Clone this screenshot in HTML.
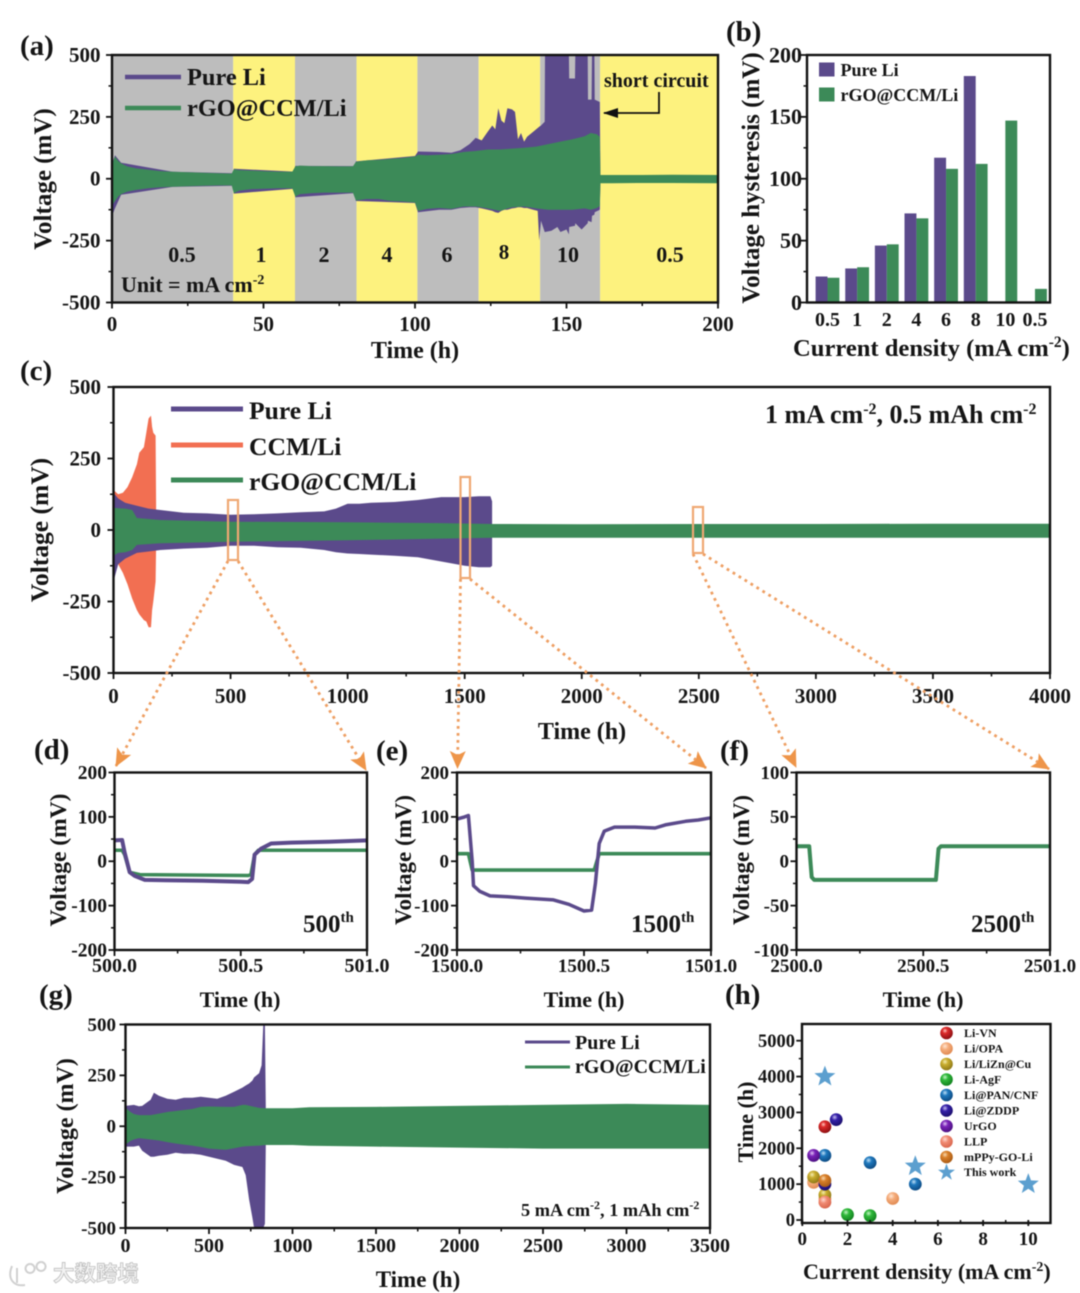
<!DOCTYPE html>
<html lang="en">
<head>
<meta charset="utf-8">
<title>Voltage profiles of Pure Li and rGO@CCM/Li cells</title>
<style>
html,body{margin:0;padding:0;background:#fff;}
svg{display:block;filter:blur(.45px);}
text{font-family:"Liberation Serif","Noto Serif CJK SC",serif;font-weight:bold;fill:#151515;}
.plabel{font-size:29px;}
.frame{fill:none;stroke:#111;stroke-width:2.4;}
.dots{fill:none;stroke:#ee9f63;stroke-width:2.8;stroke-dasharray:2.8 4.2;marker-end:url(#orange-head);}
.zoombox{fill:none;stroke:#efa873;stroke-width:2.2;}
</style>
</head>
<body>
<svg id="figure" xmlns="http://www.w3.org/2000/svg" width="1080" height="1293" viewBox="0 0 1080 1293">
<defs>
<marker id="orange-head" markerUnits="userSpaceOnUse" markerWidth="22" markerHeight="18" refX="17" refY="8" orient="auto"><path d="M0 0 L18 8 L0 16 L4 8 Z" fill="#ee9549"/></marker>
<marker id="black-head" markerUnits="userSpaceOnUse" markerWidth="16" markerHeight="12" refX="14" refY="5" orient="auto"><path d="M0 0 L15 5 L0 10 Z" fill="#111"/></marker>
<radialGradient id="g-red" cx="38%" cy="32%" r="70%"><stop offset="0" stop-color="#ffc9c0"/><stop offset=".3" stop-color="#dd2b2b"/><stop offset="1" stop-color="#8a0f12"/></radialGradient>
<radialGradient id="g-peach" cx="38%" cy="32%" r="70%"><stop offset="0" stop-color="#ffe6d2"/><stop offset=".4" stop-color="#f4ab7a"/><stop offset="1" stop-color="#e08a52"/></radialGradient>
<radialGradient id="g-olive" cx="38%" cy="32%" r="70%"><stop offset="0" stop-color="#f5edb0"/><stop offset=".35" stop-color="#c9ad2e"/><stop offset="1" stop-color="#8d7816"/></radialGradient>
<radialGradient id="g-green" cx="38%" cy="32%" r="70%"><stop offset="0" stop-color="#c4f5c4"/><stop offset=".35" stop-color="#2fb83a"/><stop offset="1" stop-color="#12801f"/></radialGradient>
<radialGradient id="g-blue" cx="38%" cy="32%" r="70%"><stop offset="0" stop-color="#bfe0f7"/><stop offset=".35" stop-color="#1e78bd"/><stop offset="1" stop-color="#0d4a82"/></radialGradient>
<radialGradient id="g-indigo" cx="38%" cy="32%" r="70%"><stop offset="0" stop-color="#c6bdf2"/><stop offset=".35" stop-color="#3420a8"/><stop offset="1" stop-color="#1b0f6c"/></radialGradient>
<radialGradient id="g-purple" cx="38%" cy="32%" r="70%"><stop offset="0" stop-color="#e0c4f5"/><stop offset=".35" stop-color="#7a22b8"/><stop offset="1" stop-color="#4b1180"/></radialGradient>
<radialGradient id="g-salmon" cx="38%" cy="32%" r="70%"><stop offset="0" stop-color="#ffd9d0"/><stop offset=".4" stop-color="#f08a72"/><stop offset="1" stop-color="#d8654c"/></radialGradient>
<radialGradient id="g-brown" cx="38%" cy="32%" r="70%"><stop offset="0" stop-color="#f7d9b0"/><stop offset=".35" stop-color="#d9802a"/><stop offset="1" stop-color="#a85a14"/></radialGradient>
</defs>

<g id="panel-a">
  <g id="a-stripes"></g>
  <g id="a-marks"></g>
  <rect class="frame" x="112" y="55" width="606" height="247.5"/>
  <g id="a-axes"></g>
  <text class="plabel" x="20" y="55">(a)</text>
  <text font-size="25" text-anchor="middle" transform="translate(51,179) rotate(-90)">Voltage (mV)</text>
  <text font-size="24" text-anchor="middle" x="415" y="358">Time (h)</text>
  <line x1="125" y1="77" x2="181" y2="77" stroke="#5b4a8b" stroke-width="4.5"/>
  <line x1="125" y1="108" x2="181" y2="108" stroke="#3c8a58" stroke-width="4.5"/>
  <text font-size="24.4" x="187" y="85">Pure Li</text>
  <text font-size="24.4" x="187" y="116">rGO@CCM/Li</text>
  <text font-size="22" text-anchor="middle" x="182" y="262">0.5</text>
  <text font-size="22" text-anchor="middle" x="261" y="262">1</text>
  <text font-size="22" text-anchor="middle" x="324" y="262">2</text>
  <text font-size="22" text-anchor="middle" x="387" y="262">4</text>
  <text font-size="22" text-anchor="middle" x="447" y="262">6</text>
  <text font-size="21" text-anchor="middle" x="504" y="259">8</text>
  <text font-size="22" text-anchor="middle" x="568" y="262">10</text>
  <text font-size="22" text-anchor="middle" x="670" y="262">0.5</text>
  <text font-size="22" x="121" y="292">Unit = mA cm<tspan font-size="14" dy="-8">-2</tspan></text>
  <text font-size="20" x="604" y="87">short circuit</text>
  <polyline points="659,92 659,113 604,113" fill="none" stroke="#111" stroke-width="1.8" marker-end="url(#black-head)"/>
</g>

<g id="panel-b">
  <g id="b-marks"></g>
  <rect class="frame" x="807" y="55" width="243" height="247.5"/>
  <g id="b-axes"></g>
  <text class="plabel" x="726" y="41">(b)</text>
  <text font-size="25" text-anchor="middle" transform="translate(759,178) rotate(-90)">Voltage hysteresis (mV)</text>
  <text font-size="24.6" x="793" y="356">Current density (mA cm<tspan font-size="15.5" dy="-9">-2</tspan><tspan dy="9">)</tspan></text>
  <rect x="819" y="62.5" width="15.5" height="14" fill="#5b4a8b"/>
  <rect x="819" y="87.5" width="15.5" height="14" fill="#3c8a58"/>
  <text font-size="18" x="840.5" y="76">Pure Li</text>
  <text font-size="18" x="840.5" y="101">rGO@CCM/Li</text>
</g>

<g id="panel-c">
  <g id="c-marks"></g>
  <rect class="frame" x="113.5" y="387" width="936.5" height="286"/>
  <g id="c-axes"></g>
  <text class="plabel" x="20" y="380">(c)</text>
  <text font-size="25.5" text-anchor="middle" transform="translate(48,530) rotate(-90)">Voltage (mV)</text>
  <text font-size="24" text-anchor="middle" x="582" y="739">Time (h)</text>
  <line x1="171" y1="409" x2="243" y2="409" stroke="#5b4a8b" stroke-width="5"/>
  <line x1="171" y1="445" x2="243" y2="445" stroke="#f26f52" stroke-width="5"/>
  <line x1="171" y1="480" x2="243" y2="480" stroke="#3c8a58" stroke-width="5"/>
  <text font-size="25.6" x="249" y="419">Pure Li</text>
  <text font-size="25.6" x="249" y="455">CCM/Li</text>
  <text font-size="25.6" x="249" y="490">rGO@CCM/Li</text>
  <text font-size="26" x="765" y="423">1 mA cm<tspan font-size="16" dy="-9">-2</tspan><tspan dy="9">, 0.5 mAh cm</tspan><tspan font-size="16" dy="-9">-2</tspan></text>
  <rect class="zoombox" x="228" y="500" width="10" height="60"/>
  <rect class="zoombox" x="460.5" y="477" width="9.5" height="101"/>
  <rect class="zoombox" x="693" y="507" width="10" height="46"/>
  <line class="dots" x1="228" y1="561" x2="116" y2="766"/>
  <line class="dots" x1="238" y1="561" x2="366" y2="770"/>
  <line class="dots" x1="460.5" y1="579" x2="457.5" y2="768"/>
  <line class="dots" x1="470" y1="579" x2="706" y2="768"/>
  <line class="dots" x1="693" y1="554" x2="796" y2="767"/>
  <line class="dots" x1="703" y1="554" x2="1049" y2="769"/>
</g>

<g id="panel-d">
  <g id="d-marks"></g>
  <rect class="frame" x="114.5" y="772.5" width="252.5" height="177.5"/>
  <g id="d-axes"></g>
  <text class="plabel" x="34" y="759">(d)</text>
  <text font-size="23.5" text-anchor="middle" transform="translate(66,860) rotate(-90)">Voltage (mV)</text>
  <text font-size="22" text-anchor="middle" x="240" y="1007">Time (h)</text>
  <text font-size="25" x="303" y="932">500<tspan font-size="15" dy="-10">th</tspan></text>
</g>

<g id="panel-e">
  <g id="e-marks"></g>
  <rect class="frame" x="457" y="772.5" width="254" height="177.5"/>
  <g id="e-axes"></g>
  <text class="plabel" x="376" y="760">(e)</text>
  <text font-size="23" text-anchor="middle" transform="translate(411,860) rotate(-90)">Voltage (mV)</text>
  <text font-size="22" text-anchor="middle" x="584" y="1007">Time (h)</text>
  <text font-size="25" x="631" y="932">1500<tspan font-size="15" dy="-10">th</tspan></text>
</g>

<g id="panel-f">
  <g id="f-marks"></g>
  <rect class="frame" x="796.5" y="772.5" width="253.5" height="177.5"/>
  <g id="f-axes"></g>
  <text class="plabel" x="720" y="760">(f)</text>
  <text font-size="23" text-anchor="middle" transform="translate(749,860) rotate(-90)">Voltage (mV)</text>
  <text font-size="22" text-anchor="middle" x="923" y="1007">Time (h)</text>
  <text font-size="25" x="971" y="932">2500<tspan font-size="15" dy="-10">th</tspan></text>
</g>

<g id="panel-g">
  <g id="g-marks"></g>
  <rect class="frame" x="125.5" y="1024.5" width="584.5" height="203.5"/>
  <g id="g-axes"></g>
  <text class="plabel" x="39" y="1004">(g)</text>
  <text font-size="24" text-anchor="middle" transform="translate(73,1126) rotate(-90)">Voltage (mV)</text>
  <text font-size="23" text-anchor="middle" x="418" y="1287">Time (h)</text>
  <line x1="525" y1="1042" x2="570" y2="1042" stroke="#5b4a8b" stroke-width="3"/>
  <line x1="525" y1="1067" x2="570" y2="1067" stroke="#3c8a58" stroke-width="3"/>
  <text font-size="20" x="575" y="1049">Pure Li</text>
  <text font-size="20" x="575" y="1073">rGO@CCM/Li</text>
  <text font-size="18.3" x="521" y="1216">5 mA cm<tspan font-size="12" dy="-7">-2</tspan><tspan dy="7">, 1 mAh cm</tspan><tspan font-size="12" dy="-7">-2</tspan></text>
</g>

<g id="panel-h">
  <g id="h-marks"></g>
  <rect class="frame" x="802" y="1024" width="248.5" height="199"/>
  <g id="h-axes"></g>
  <text class="plabel" x="725" y="1004">(h)</text>
  <text font-size="22" text-anchor="middle" transform="translate(753,1122) rotate(-90)">Time (h)</text>
  <text font-size="22" x="803" y="1279">Current density (mA cm<tspan font-size="14" dy="-8">-2</tspan><tspan dy="8">)</tspan></text>
  <g font-size="12">
    <circle cx="946.5" cy="1033" r="6.3" fill="url(#g-red)"/>
    <text font-size="12" x="964" y="1037">Li-VN</text>
    <circle cx="946.5" cy="1048.5" r="6.3" fill="url(#g-peach)"/>
    <text font-size="12" x="964" y="1052.5">Li/OPA</text>
    <circle cx="946.5" cy="1064" r="6.3" fill="url(#g-olive)"/>
    <text font-size="12" x="964" y="1068">Li/LiZn@Cu</text>
    <circle cx="946.5" cy="1079.5" r="6.3" fill="url(#g-green)"/>
    <text font-size="12" x="964" y="1083.5">Li-AgF</text>
    <circle cx="946.5" cy="1095" r="6.3" fill="url(#g-blue)"/>
    <text font-size="12" x="964" y="1099">Li@PAN/CNF</text>
    <circle cx="946.5" cy="1110.5" r="6.3" fill="url(#g-indigo)"/>
    <text font-size="12" x="964" y="1114.5">Li@ZDDP</text>
    <circle cx="946.5" cy="1126" r="6.3" fill="url(#g-purple)"/>
    <text font-size="12" x="964" y="1130">UrGO</text>
    <circle cx="946.5" cy="1141.5" r="6.3" fill="url(#g-salmon)"/>
    <text font-size="12" x="964" y="1145.5">LLP</text>
    <circle cx="946.5" cy="1157" r="6.3" fill="url(#g-brown)"/>
    <text font-size="12" x="964" y="1161">mPPy-GO-Li</text>
    <polygon points="946.5,1163.5 948.6,1169.6 955,1169.7 949.9,1173.6 951.8,1179.7 946.5,1176 941.2,1179.7 943.1,1173.6 938,1169.7 944.4,1169.6" fill="#5c9fcf"/>
    <text font-size="12" x="964" y="1176">This work</text>
  </g>
</g>

<g opacity=".85">
  <path d="M12 1266 C7 1278 13 1287 25 1285 M17 1268 L17 1283 M30 1264 a4.5 4.5 0 1 0 .1 0 M41 1262 a4.5 4.5 0 1 0 .1 0" fill="none" stroke="#c8c8c8" stroke-width="2"/>
  <text x="53" y="1281" font-size="21.5" style="font-family:'Liberation Sans','Noto Sans CJK SC',sans-serif;fill:#f0f0f0;stroke:#b5b5b5;stroke-width:.8">大数跨境</text>
</g>
</svg>

<script>
/* ---------- Panel (a): rate capability ---------- */
const aXTicks = [0, 50, 100, 150, 200];
const aXMinor = [25, 75, 125, 175];
const aYTicks = [-500, -250, 0, 250, 500];
const aYMinor = [-375, -125, 125, 375];
const aStripeEdges = [0, 40, 60.4, 80.7, 100.8, 121, 141.3, 161.1, 200];
/* rows: time (h), upper envelope (mV), lower envelope (mV) */
const aPureEnvelope = [[0,60,-150],[1,95,-120],[3,65,-65],[20,28,-33],[40,22,-28],[40.2,40,-60],[60,29,-40],[60.5,52,-75],[80,51,-58],[80.5,70,-90],[100,92,-98],[101,110,-135],[108,108,-125],[112,105,-125],[115,115,-118],[118,140,-115],[120,165,-115],[122,155,-120],[124,190,-125],[125.5,215,-130],[126.5,200,-135],[127.5,285,-138],[128.5,235,-130],[129.5,225,-125],[130.5,285,-125],[132,280,-120],[133,270,-118],[134,160,-115],[135,185,-115],[136,150,-118],[137,170,-118],[139,190,-125],[140.5,205,-130],[141,210,-250],[141.6,215,-170],[142.8,230,-215],[142.9,500,-215],[145,500,-210],[147,500,-195],[148,500,-215],[150,500,-205],[150.8,500,-225],[150.9,405,-195],[152.8,405,-190],[152.9,500,-180],[155,500,-205],[157,500,-180],[157.1,320,-170],[158.3,320,-175],[158.4,500,-150],[159.2,500,-145],[159.3,320,-135],[161,310,-125],[161.2,15,-18]];
const aGreenEnvelope = [[0,50,-100],[0.5,75,-100],[1,90,-90],[2,72,-72],[3,62,-62],[5,50,-52],[8,42,-45],[12,36,-38],[16,31,-34],[20,28,-32],[25,26,-30],[30,24,-28],[35,22,-27],[39.5,21,-27],[40.2,38,-58],[42,35,-48],[46,33,-42],[50,31,-40],[55,29,-38],[59.5,28,-38],[60.5,50,-72],[62,53,-62],[66,51,-58],[70,51,-56],[75,50,-56],[79.5,50,-56],[80.5,68,-88],[84,74,-82],[88,76,-82],[92,80,-90],[96,84,-92],[100,90,-96],[101,97,-130],[104,95,-122],[108,97,-118],[112,100,-122],[116,108,-112],[120,112,-112],[124,118,-120],[128,118,-130],[132,122,-115],[136,125,-112],[140,130,-120],[144,140,-125],[148,150,-125],[152,160,-125],[156,172,-120],[158,185,-125],[160,180,-118],[161,170,-110],[161.2,15,-18],[165,15,-18],[175,15,-17],[185,16,-17],[200,15,-18]];

/* ---------- Panel (b): hysteresis bars ---------- */
const bCategories = ['0.5', '1', '2', '4', '6', '8', '10', '0.5'];
const bPureValues = [21, 27.5, 46, 72, 117, 183, null, null];
const bGreenValues = [20, 28.5, 47, 68, 108, 112, 147, 11];
const bYTicks = [0, 50, 100, 150, 200];
const bYMinor = [25, 75, 125, 175];

/* ---------- Panel (c): long cycling ---------- */
const cXTicks = [0, 500, 1000, 1500, 2000, 2500, 3000, 3500, 4000];
const cXMinor = [250, 750, 1250, 1750, 2250, 2750, 3250, 3750];
const cYTicks = [-500, -250, 0, 250, 500];
const cYMinor = [-375, -125, 125, 375];
const cCcmEnvelope = [[0,140,-100],[20,125,-120],[40,130,-150],[60,150,-190],[80,185,-240],[100,230,-280],[110,270,-295],[130,290,-315],[140,340,-320],[150,390,-340],[160,400,-340],[165,360,-280],[170,340,-250],[180,330,-180],[182,90,-60]];
const cPureEnvelope = [[0,130,-180],[20,110,-120],[50,95,-100],[100,85,-80],[150,75,-75],[200,70,-70],[300,60,-65],[400,58,-62],[500,53,-55],[600,55,-55],[700,58,-60],[800,62,-62],[900,65,-70],[950,75,-78],[1000,92,-82],[1050,92,-84],[1100,95,-86],[1200,98,-90],[1300,105,-95],[1400,115,-110],[1500,115,-125],[1560,118,-130],[1610,118,-130],[1617,100,-125]];
const cGreenEnvelope = [[0,78,-90],[20,76,-80],[50,75,-78],[80,70,-70],[100,42,-52],[200,35,-46],[500,29,-41],[1000,27,-36],[1400,24,-30],[1620,21,-27],[2000,20,-27],[2500,21,-27],[3000,21,-27],[3500,22,-27],[4000,22,-27]];

/* ---------- Panels (d)(e)(f): single cycles ---------- */
const dXTicks = [500, 500.5, 501];
const dXLabels = ['500.0', '500.5', '501.0'];
const dXMinor = [500.25, 500.75];
const dYTicks = [-200, -100, 0, 100, 200];
const dYMinor = [-150, -50, 50, 150];
const dPureLine = [[500,47],[500.03,48],[500.04,20],[500.06,-25],[500.08,-33],[500.12,-42],[500.2,-43],[500.35,-44],[500.5,-46],[500.53,-47],[500.545,-40],[500.555,15],[500.58,28],[500.62,40],[500.7,42],[500.85,44],[501,47]];
const dGreenLine = [[500,25],[500.03,25],[500.04,15],[500.06,-25],[500.1,-30],[500.53,-32],[500.54,-30],[500.555,15],[500.57,25],[501,25]];

const eXTicks = [1500, 1500.5, 1501];
const eXLabels = ['1500.0', '1500.5', '1501.0'];
const eXMinor = [1500.25, 1500.75];
const eYTicks = [-200, -100, 0, 100, 200];
const eYMinor = [-150, -50, 50, 150];
const ePureLine = [[1500,95],[1500.03,100],[1500.045,103],[1500.06,0],[1500.065,-55],[1500.09,-68],[1500.13,-78],[1500.2,-80],[1500.27,-83],[1500.38,-87],[1500.44,-97],[1500.5,-112],[1500.53,-110],[1500.545,-50],[1500.56,40],[1500.58,68],[1500.62,77],[1500.7,77],[1500.78,75],[1500.82,82],[1500.9,90],[1500.95,93],[1501,98]];
const eGreenLine = [[1500,17],[1500.045,17],[1500.06,-20],[1500.54,-20],[1500.56,17],[1501,17]];

const fXTicks = [2500, 2500.5, 2501];
const fXLabels = ['2500.0', '2500.5', '2501.0'];
const fXMinor = [2500.25, 2500.75];
const fYTicks = [-100, -50, 0, 50, 100];
const fYMinor = [-75, -25, 25, 75];
const fGreenLine = [[2500,17],[2500.05,17],[2500.06,-18],[2500.07,-21],[2500.55,-21],[2500.56,14],[2500.57,17],[2501,17]];

/* ---------- Panel (g): high rate ---------- */
const gXTicks = [0, 500, 1000, 1500, 2000, 2500, 3000, 3500];
const gXMinor = [250, 750, 1250, 1750, 2250, 2750, 3250];
const gYTicks = [-500, -250, 0, 250, 500];
const gYMinor = [-375, -125, 125, 375];
const gPureEnvelope = [[0,100,-100],[50,105,-100],[80,98,-95],[100,100,-120],[150,130,-150],[170,165,-150],[200,150,-145],[250,135,-140],[300,130,-130],[350,140,-135],[400,140,-135],[450,145,-140],[500,140,-150],[550,135,-160],[600,150,-170],[650,170,-190],[700,190,-200],[720,200,-240],[740,210,-360],[760,225,-450],[770,240,-500],[800,260,-500],[815,300,-500],[825,500,-500],[835,500,-480],[840,90,-90]];
const gGreenEnvelope = [[0,90,-90],[30,70,-72],[50,60,-65],[80,55,-58],[100,55,-60],[150,55,-65],[200,62,-70],[250,70,-78],[300,75,-85],[350,80,-90],[400,85,-95],[450,95,-102],[500,97,-110],[600,95,-115],[650,95,-108],[700,105,-100],[720,105,-98],[800,90,-95],[840,88,-92],[1000,88,-92],[1100,93,-96],[1500,95,-100],[2000,100,-105],[2500,105,-110],[3000,110,-110],[3500,105,-110]];

/* ---------- Panel (h): literature comparison ---------- */
const hXTicks = [0, 2, 4, 6, 8, 10];
const hXMinor = [1, 3, 5, 7, 9];
const hYTicks = [0, 1000, 2000, 3000, 4000, 5000];
const hYMinor = [500, 1500, 2500, 3500, 4500];
const liOpaPoints = [[0.5,1050],[4,600],[1,600]];
const liLiZnPoints = [[0.5,1200],[1,700]];
const liAgfPoints = [[2,150],[3,120]];
const liPanPoints = [[1,1800],[3,1600],[5,1000]];
const liZddpPoints = [[1.5,2800],[1,1000]];
const urgoPoints = [[0.5,1800]];
const llpPoints = [[1,500]];
const mppyPoints = [[1,1100]];
const liVnPoints = [[1,2600]];
const thisWorkPoints = [[1,4000],[5,1500],[10,1000]];

/* ---------- helpers ---------- */
const NS = 'http://www.w3.org/2000/svg';
const PURPLE = '#5b4a8b', GREEN = '#3c8a58', CORAL = '#f26f52';
function make(tag, attrs, parent) {
  const el = document.createElementNS(NS, tag);
  Object.keys(attrs).forEach(k => el.setAttribute(k, attrs[k]));
  parent.appendChild(el);
  return el;
}
function byId(id) { return document.getElementById(id); }
function linear(d0, d1, r0, r1) { return v => r0 + (v - d0) * (r1 - r0) / (d1 - d0); }
function drawEnvelope(parent, rows, x, y, color, label) {
  const up = rows.map(r => x(r[0]).toFixed(1) + ',' + y(r[1]).toFixed(1));
  const lo = rows.slice().reverse().map(r => x(r[0]).toFixed(1) + ',' + y(r[2]).toFixed(1));
  const el = make('polygon', { points: up.concat(lo).join(' '), fill: color }, parent);
  
  
}
function drawTrace(parent, rows, x, y, color, width, label) {
  const pts = rows.map(r => x(r[0]).toFixed(1) + ',' + y(r[1]).toFixed(1)).join(' ');
  const el = make('polyline', { points: pts, fill: 'none', stroke: color, 'stroke-width': width, 'stroke-linejoin': 'round' }, parent);
  
  
}
function drawAxes(parent, opts) {
  const baseY = opts.y(opts.yDomainMin);
  const baseX = opts.x(opts.xDomainMin);
  (opts.xTicks || []).forEach((v, i) => {
    const t = make('line', { x1: opts.x(v), x2: opts.x(v), y1: baseY, y2: baseY + 6, stroke: '#111', 'stroke-width': 1.8 }, parent);
    
    
    const lab = make('text', { x: opts.x(v), y: opts.xLabelY, 'text-anchor': 'middle', 'font-size': opts.xSize }, parent);
    lab.textContent = opts.xLabels ? opts.xLabels[i] : String(v);
    
    
  });
  (opts.xMinor || []).forEach(v => {
    const t = make('line', { x1: opts.x(v), x2: opts.x(v), y1: baseY, y2: baseY + 3.5, stroke: '#111', 'stroke-width': 1.5 }, parent);
    
    
  });
  opts.yTicks.forEach(v => {
    const t = make('line', { x1: baseX, x2: baseX - 6, y1: opts.y(v), y2: opts.y(v), stroke: '#111', 'stroke-width': 1.8 }, parent);
    
    
    const lab = make('text', { x: opts.yLabelX, y: opts.y(v) + opts.ySize * 0.33, 'text-anchor': 'end', 'font-size': opts.ySize }, parent);
    lab.textContent = String(v);
    
    
  });
  (opts.yMinor || []).forEach(v => {
    const t = make('line', { x1: baseX, x2: baseX - 3.5, y1: opts.y(v), y2: opts.y(v), stroke: '#111', 'stroke-width': 1.5 }, parent);
    
    
  });
}

/* ---------- panel a ---------- */
(function () {
  const x = linear(0, 200, 112, 718), y = linear(-500, 500, 302.5, 55);
  const stripes = byId('a-stripes');
  for (let i = 0; i < aStripeEdges.length - 1; i++) {
    const r = make('rect', { x: x(aStripeEdges[i]), y: y(500), width: x(aStripeEdges[i + 1]) - x(aStripeEdges[i]), height: y(-500) - y(500), fill: i % 2 ? '#fdf27e' : '#bdbdbd' }, stripes);
    
    
  }
  const m = byId('a-marks');
  drawEnvelope(m, aPureEnvelope, x, y, PURPLE, 'pure-li-voltage-band');
  drawEnvelope(m, aGreenEnvelope, x, y, GREEN, 'rgo-ccm-li-voltage-band');
  drawAxes(byId('a-axes'), { x, y, xDomainMin: 0, yDomainMin: -500, xTicks: aXTicks, xMinor: aXMinor, yTicks: aYTicks, yMinor: aYMinor, xLabelY: 331, xSize: 21, yLabelX: 100.5, ySize: 21 });
})();

/* ---------- panel b ---------- */
(function () {
  const y = linear(0, 200, 302.5, 55);
  const groupX = i => 827.5 + i * 29.64;
  const barW = 11.9;
  const m = byId('b-marks');
  bCategories.forEach((c, i) => {
    if (bPureValues[i] !== null) {
      const p = make('rect', { x: groupX(i) - barW, y: y(bPureValues[i]), width: barW, height: y(0) - y(bPureValues[i]), fill: PURPLE }, m);
      
      
    }
    if (bGreenValues[i] !== null) {
      const g = make('rect', { x: groupX(i), y: y(bGreenValues[i]), width: barW, height: y(0) - y(bGreenValues[i]), fill: GREEN }, m);
      
      
    }
    const lab = make('text', { x: groupX(i), y: 326, 'text-anchor': 'middle', 'font-size': 20 }, byId('b-axes'));
    lab.textContent = c;
    
    
  });
  drawAxes(byId('b-axes'), { x: v => v, y, xDomainMin: 807, yDomainMin: 0, yTicks: bYTicks, yMinor: bYMinor, yLabelX: 802, ySize: 22 });
})();

/* ---------- panel c ---------- */
(function () {
  const x = linear(0, 4000, 113.5, 1050), y = linear(-500, 500, 673, 387);
  const m = byId('c-marks');
  drawEnvelope(m, cCcmEnvelope, x, y, CORAL, 'ccm-li-voltage-band');
  drawEnvelope(m, cPureEnvelope, x, y, PURPLE, 'pure-li-voltage-band');
  drawEnvelope(m, cGreenEnvelope, x, y, GREEN, 'rgo-ccm-li-voltage-band');
  drawAxes(byId('c-axes'), { x, y, xDomainMin: 0, yDomainMin: -500, xTicks: cXTicks, xMinor: cXMinor, yTicks: cYTicks, yMinor: cYMinor, xLabelY: 703, xSize: 21, yLabelX: 101, ySize: 21 });
})();

/* ---------- panel d ---------- */
(function () {
  const x = linear(500, 501, 114.5, 367), y = linear(-200, 200, 950, 772.5);
  const m = byId('d-marks');
  drawTrace(m, dGreenLine, x, y, GREEN, 3.5, 'rgo-ccm-li-trace');
  drawTrace(m, dPureLine, x, y, PURPLE, 4, 'pure-li-trace');
  drawAxes(byId('d-axes'), { x, y, xDomainMin: 500, yDomainMin: -200, xTicks: dXTicks, xLabels: dXLabels, xMinor: dXMinor, yTicks: dYTicks, yMinor: dYMinor, xLabelY: 972, xSize: 20, yLabelX: 107, ySize: 19.5 });
})();

/* ---------- panel e ---------- */
(function () {
  const x = linear(1500, 1501, 457, 711), y = linear(-200, 200, 950, 772.5);
  const m = byId('e-marks');
  drawTrace(m, eGreenLine, x, y, GREEN, 3.6, 'rgo-ccm-li-trace');
  drawTrace(m, ePureLine, x, y, PURPLE, 3.5, 'pure-li-trace');
  drawAxes(byId('e-axes'), { x, y, xDomainMin: 1500, yDomainMin: -200, xTicks: eXTicks, xLabels: eXLabels, xMinor: eXMinor, yTicks: eYTicks, yMinor: eYMinor, xLabelY: 972, xSize: 19, yLabelX: 449, ySize: 19 });
})();

/* ---------- panel f ---------- */
(function () {
  const x = linear(2500, 2501, 796.5, 1050), y = linear(-100, 100, 950, 772.5);
  drawTrace(byId('f-marks'), fGreenLine, x, y, GREEN, 4, 'rgo-ccm-li-trace');
  drawAxes(byId('f-axes'), { x, y, xDomainMin: 2500, yDomainMin: -100, xTicks: fXTicks, xLabels: fXLabels, xMinor: fXMinor, yTicks: fYTicks, yMinor: fYMinor, xLabelY: 972, xSize: 19, yLabelX: 789, ySize: 19 });
})();

/* ---------- panel g ---------- */
(function () {
  const x = linear(0, 3500, 125.5, 710), y = linear(-500, 500, 1228, 1024.5);
  const m = byId('g-marks');
  drawEnvelope(m, gPureEnvelope, x, y, PURPLE, 'pure-li-voltage-band');
  drawEnvelope(m, gGreenEnvelope, x, y, GREEN, 'rgo-ccm-li-voltage-band');
  drawAxes(byId('g-axes'), { x, y, xDomainMin: 0, yDomainMin: -500, xTicks: gXTicks, xMinor: gXMinor, yTicks: gYTicks, yMinor: gYMinor, xLabelY: 1252, xSize: 20, yLabelX: 116, ySize: 19 });
})();

/* ---------- panel h ---------- */
(function () {
  const x = linear(0, 10, 802.3, 1028.3), y = linear(0, 5000, 1220, 1040.7);
  const m = byId('h-marks');
  const ballSeries = [
    [liOpaPoints, 'g-peach'], [liLiZnPoints, 'g-olive'], [liAgfPoints, 'g-green'],
    [liPanPoints, 'g-blue'], [liZddpPoints, 'g-indigo'], [urgoPoints, 'g-purple'],
    [llpPoints, 'g-salmon'], [mppyPoints, 'g-brown'], [liVnPoints, 'g-red']
  ];
  ballSeries.forEach(s => {
    s[0].forEach(p => {
      const c = make('circle', { cx: x(p[0]), cy: y(p[1]), r: 6.4, fill: 'url(#' + s[1] + ')' }, m);
      
      
    });
  });
  thisWorkPoints.forEach(p => {
    const pts = [];
    for (let i = 0; i < 10; i++) {
      const rad = i % 2 ? 4.6 : 11;
      const a = -Math.PI / 2 + i * Math.PI / 5;
      pts.push((x(p[0]) + rad * Math.cos(a)).toFixed(1) + ',' + (y(p[1]) + rad * Math.sin(a)).toFixed(1));
    }
    const st = make('polygon', { points: pts.join(' '), fill: '#5c9fcf' }, m);
    
    
  });
  drawAxes(byId('h-axes'), { x, y, xDomainMin: 0, yDomainMin: 0, xTicks: hXTicks, xMinor: hXMinor, yTicks: hYTicks, yMinor: hYMinor, xLabelY: 1245, xSize: 19, yLabelX: 795, ySize: 18.5 });
})();
</script>
</body>
</html>
